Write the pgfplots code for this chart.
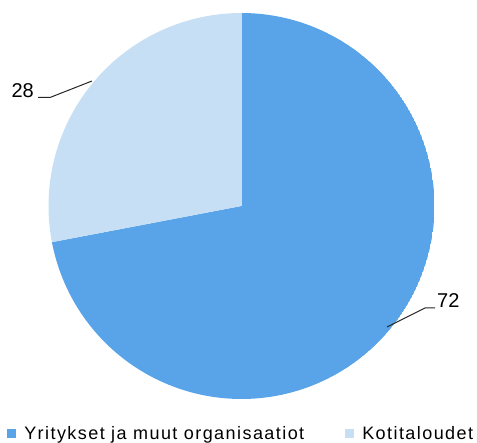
\documentclass[border=0pt]{standalone}
\usepackage{fontspec}
\setmainfont{Liberation Sans}
\newfontfamily\legfont{Liberation Sans}[LetterSpace=8]
\usepackage{pgfplots}
\pgfplotsset{compat=1.18}
\usepgfplotslibrary{polar}
\definecolor{pieblue}{HTML}{59A4E8}
\definecolor{pielight}{HTML}{C6DFF5}
\definecolor{leader}{HTML}{262626}

% shares (%)
\pgfmathsetmacro\shareA{72}% Yritykset ja muut organisaatiot
\pgfmathsetmacro\shareB{28}% Kotitaloudet
\pgfmathsetmacro\endA{90-3.6*\shareA}
\pgfmathsetmacro\endB{90+3.6*\shareB}

\begin{document}
\begin{tikzpicture}
\useasboundingbox (0,0) rectangle (477bp,443bp);
\begin{polaraxis}[
  at={(241.5bp,237bp)}, anchor=origin,
  hide axis, scale only axis, width=386bp, height=386bp,
  ymin=0, ymax=193,
  legend columns=2,
  legend image code/.code={\fill[#1] (0bp,-4.5bp) rectangle (9bp,4.5bp);},
  legend style={draw=none, fill=none, at={(-0.115,-0.06)}, anchor=north west,
    font=\legfont\fontsize{18bp}{21bp}\selectfont,
    /tikz/every odd column/.append style={column sep=6bp},
    /tikz/every even column/.append style={column sep=39bp}},
]
\addplot[draw=none, fill=pieblue, domain=\endA:90, samples=160] {193} -- (axis cs:0,0) -- cycle;
\addlegendentry{Yritykset ja muut organisaatiot}
\addplot[draw=none, fill=pielight, domain=90:\endB, samples=80] {193} -- (axis cs:0,0) -- cycle;
\addlegendentry{Kotitaloudet}
\end{polaraxis}
% leader lines and labels
\draw[leader, line width=1bp] (38bp,345.5bp) -- (50bp,345.5bp) -- (92bp,362bp);
\node[anchor=base east, inner sep=0pt, font=\fontsize{20bp}{24bp}\selectfont] at (34bp,345.5bp) {28};
\draw[leader, line width=1bp] (387bp,116bp) -- (425bp,135bp) -- (435bp,135bp);
\node[anchor=base west, inner sep=0pt, font=\fontsize{20bp}{24bp}\selectfont] at (437bp,135bp) {72};
\end{tikzpicture}
\end{document}
